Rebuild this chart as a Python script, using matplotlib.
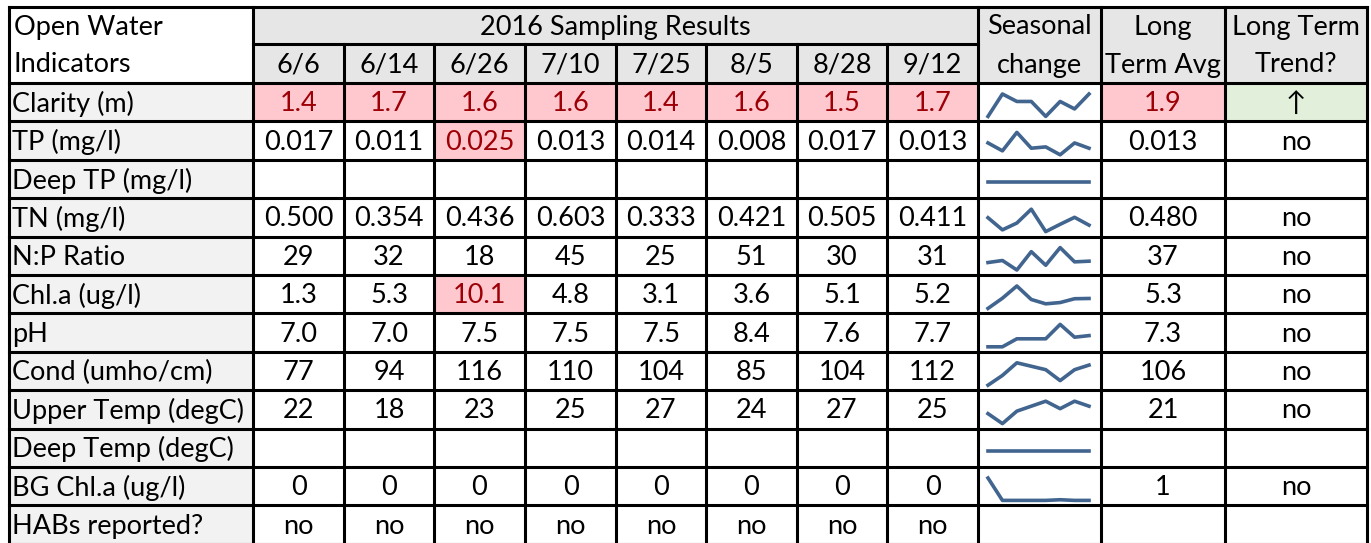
import numpy as np
import matplotlib.pyplot as plt
from matplotlib.patches import Rectangle

plt.rcParams['font.family'] = ['Lato', 'DejaVu Sans']

# ---- data ----
dates = ['6/6', '6/14', '6/26', '7/10', '7/25', '8/5', '8/28', '9/12']
indicators = ['Clarity (m)', 'TP (mg/l)', 'Deep TP (mg/l)', 'TN (mg/l)', 'N:P Ratio',
              'Chl.a (ug/l)', 'pH', 'Cond (umho/cm)', 'Upper Temp (degC)',
              'Deep Temp (degC)', 'BG Chl.a (ug/l)', 'HABs reported?']

clarity = [1.4, 1.7, 1.6, 1.6, 1.4, 1.6, 1.5, 1.7]
tp = [0.017, 0.011, 0.025, 0.013, 0.014, 0.008, 0.017, 0.013]
deep_tp = [np.nan] * 8
tn = [0.500, 0.354, 0.436, 0.603, 0.333, 0.421, 0.505, 0.411]
np_ratio = [29, 32, 18, 45, 25, 51, 30, 31]
chla = [1.3, 5.3, 10.1, 4.8, 3.1, 3.6, 5.1, 5.2]
ph = [7.0, 7.0, 7.5, 7.5, 7.5, 8.4, 7.6, 7.7]
cond = [77, 94, 116, 110, 104, 85, 104, 112]
upper_temp = [22, 18, 23, 25, 27, 24, 27, 25]
deep_temp = [np.nan] * 8
bg_chla = [0.35, 0.01, 0.01, 0.01, 0.01, 0.02, 0.01, 0.01]
habs = ['no', 'no', 'no', 'no', 'no', 'no', 'no', 'no']

long_term_avg = ['1.9', '0.013', '', '0.480', '37', '5.3', '7.3', '106', '21', '', '1', '']
long_term_trend = ['\u2191', 'no', '', 'no', 'no', 'no', 'no', 'no', 'no', '', 'no', '']

series = [clarity, tp, deep_tp, tn, np_ratio, chla, ph, cond, upper_temp, deep_temp, bg_chla, None]
formats = ['{:.1f}', '{:.3f}', '', '{:.3f}', '{:.0f}', '{:.1f}', '{:.1f}', '{:.0f}',
           '{:.0f}', '', '{:.0f}', '']

# cells flagged red (row, date index); -1 = long term avg
flagged = [(0, i) for i in range(8)] + [(0, -1), (1, 2), (5, 2)]
improving = [0]  # rows with green trend cell

# ---- layout ----
W, H = 1371, 543
col_edges = [9, 253, 344, 434, 525, 616, 706, 797, 887, 978, 1101, 1225, 1367]
y_top, y_sub, y_body = 7, 44, 83
row_h = 38.4
row_edges = [y_body + i * row_h for i in range(len(indicators) + 1)]

hdr_gray = '#e7e6e6'
lbl_gray = '#f2f2f2'
pink = '#ffc7ce'
dark_red = '#9c0006'
green = '#e2efda'
spark_col = '#41658f'
fs = 19.5
dy = 1.5  # nudge text down a little

fig = plt.figure(figsize=(W / 100, H / 100), dpi=100)
ax = fig.add_axes([0, 0, 1, 1])
ax.set_xlim(0, W)
ax.set_ylim(H, 0)
ax.axis('off')


def cell(x0, x1, y0, y1, color):
    ax.add_patch(Rectangle((x0, y0), x1 - x0, y1 - y0, facecolor=color, edgecolor='none', zorder=1))


def put(x, y, s, ha='center', color='black'):
    ax.text(x, y + dy, s, fontsize=fs, va='center', ha=ha, color=color, zorder=3)


# header
cell(col_edges[1], col_edges[-1], y_top, y_body, hdr_gray)
yh1, yh2 = (y_top + y_sub) / 2, (y_sub + y_body) / 2
put(14, yh1, 'Open Water', ha='left')
put(14, yh2, 'Indicators', ha='left')
put((col_edges[1] + col_edges[9]) / 2, yh1, '2016 Sampling Results')
for i, d in enumerate(dates):
    put((col_edges[i + 1] + col_edges[i + 2]) / 2, yh2, d)
for j, (l1, l2) in enumerate([('Seasonal', 'change'), ('Long', 'Term Avg'), ('Long Term', 'Trend?')]):
    xc = (col_edges[9 + j] + col_edges[10 + j]) / 2
    put(xc, yh1, l1)
    put(xc, yh2, l2)

# body rows
for r, name in enumerate(indicators):
    y0, y1 = row_edges[r], row_edges[r + 1]
    yc = (y0 + y1) / 2
    cell(col_edges[0], col_edges[1], y0, y1, lbl_gray)
    put(12, yc, name, ha='left')

    vals = series[r]
    for i in range(8):
        x0, x1 = col_edges[i + 1], col_edges[i + 2]
        red = (r, i) in flagged
        if red:
            cell(x0, x1, y0, y1, pink)
        if vals is None:
            txt = habs[i]
        elif formats[r]:
            txt = formats[r].format(vals[i])
        else:
            txt = ''
        put((x0 + x1) / 2, yc, txt, color=dark_red if red else 'black')

    # long term avg
    red = (r, -1) in flagged
    if red:
        cell(col_edges[10], col_edges[11], y0, y1, pink)
    put((col_edges[10] + col_edges[11]) / 2, yc, long_term_avg[r], color=dark_red if red else 'black')
    # trend
    if r in improving:
        cell(col_edges[11], col_edges[12], y0, y1, green)
    put((col_edges[11] + col_edges[12]) / 2, yc, long_term_trend[r])

    # sparkline (empty values treated as zero, like the spreadsheet)
    if vals is not None:
        v = np.nan_to_num(np.array(vals, dtype=float))
        sx0, sx1 = col_edges[9] + 10, col_edges[10] - 12
        sy0, sy1 = y0 + 11, y1 - 5
        sax = fig.add_axes([sx0 / W, 1 - sy1 / H, (sx1 - sx0) / W, (sy1 - sy0) / H])
        sax.plot(range(len(v)), v, color=spark_col, lw=2.6, clip_on=False)
        sax.set_xlim(0, len(v) - 1)
        if v.max() > v.min():
            sax.set_ylim(v.min(), v.max())
        else:
            sax.set_ylim(v[0] - 1, v[0] + 1)
        sax.axis('off')

# grid lines
lw = 2.2
ax.plot([col_edges[0], col_edges[-1]], [y_top, y_top], color='black', lw=lw, zorder=4)
ax.plot([col_edges[1], col_edges[9]], [y_sub, y_sub], color='black', lw=lw, zorder=4)
for y in row_edges:
    ax.plot([col_edges[0], col_edges[-1]], [y, y], color='black', lw=lw, zorder=4)
for k, x in enumerate(col_edges):
    start = y_sub if 2 <= k <= 8 else y_top
    ax.plot([x, x], [start, H + 20], color='black', lw=lw, zorder=4)

fig.savefig('out.png', dpi=100)
